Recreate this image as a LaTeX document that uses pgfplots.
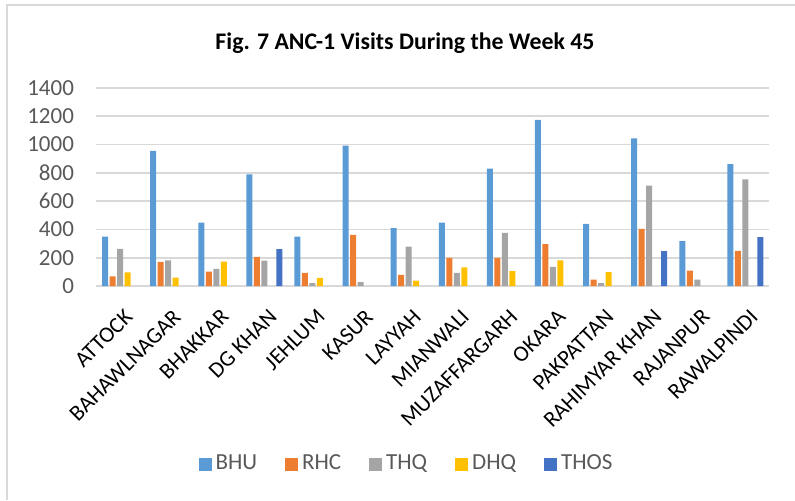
\documentclass[border=0pt]{standalone}
\usepackage{fontspec}
\setmainfont{Carlito}
\usepackage{pgfplots}
\pgfplotsset{compat=1.18}
\definecolor{cBHU}{HTML}{5B9BD5}
\definecolor{cRHC}{HTML}{ED7D31}
\definecolor{cTHQ}{HTML}{A5A5A5}
\definecolor{cDHQ}{HTML}{FFC000}
\definecolor{cTHOS}{HTML}{4472C4}
\definecolor{gridc}{HTML}{D9D9D9}
\definecolor{txtc}{HTML}{595959}
\newcommand{\lf}{\fontsize{11.5}{13}\selectfont\color{txtc}}
\begin{document}
\begin{tikzpicture}
\path[use as bounding box] (0pt,0pt) rectangle (397.5pt,250pt);
\draw[gridc, line width=0.7pt] (3.5pt,0pt) -- (3.5pt,247.5pt) -- (397.5pt,247.5pt);
\node[font=\bfseries\fontsize{11.9}{14}\selectfont, anchor=base] at (202.5pt,225.5pt) {Fig. 7 ANC-1 Visits During the Week 45};
\begin{axis}[
  at={(48pt,107pt)}, anchor=south west,
  scale only axis, width=336.7pt, height=99pt,
  xmin=-0.5, xmax=13.5, ymin=0, ymax=1400,
  ytick={0,200,...,1400},
  xtick={0,...,13},
  xticklabels={ATTOCK,BAHAWLNAGAR,BHAKKAR,DG KHAN,JEHLUM,KASUR,LAYYAH,MIANWALI,MUZAFFARGARH,OKARA,PAKPATTAN,RAHIMYAR KHAN,RAJANPUR,RAWALPINDI},
  axis x line*=bottom, axis y line*=left,
  x axis line style={-, draw=gridc, line width=0.8pt},
  y axis line style={draw=none},
  major tick length=0pt,
  ymajorgrids, major grid style={gridc, line width=0.8pt},
  /pgf/number format/assume math mode=true,
  /pgf/number format/1000 sep={},
  yticklabel style={font=\fontsize{11.5}{13}\selectfont, text=txtc, anchor=east, xshift=-7.5pt},
  xticklabel style={font=\fontsize{11.2}{13}\selectfont, text=black, inner sep=0pt, xshift=1.75pt, yshift=-10.8pt, rotate=45, anchor=north east},
  bar width=3pt,
  legend columns=5,
  legend style={draw=none, fill=none, at={(0.4626,-0.899)}, anchor=center,
    font=\fontsize{11.5}{13}\selectfont, text=txtc,
    /tikz/every even column/.append style={column sep=12pt}},
  legend image code/.code={\fill[#1] (0pt,-3.25pt) rectangle (6.5pt,3.25pt);},
]
\addplot[ybar, bar shift=-7.5pt, fill=cBHU, draw=none] coordinates {
(0,350) (1,955) (2,449) (3,790) (4,350) (5,993) (6,409) (7,449) (8,830) (9,1175) (10,440) (11,1043) (12,317) (13,861)};
\addlegendentry{\lf BHU}
\addplot[ybar, bar shift=-3.75pt, fill=cRHC, draw=none] coordinates {
(0,69) (1,170) (2,102) (3,206) (4,92) (5,362) (6,78) (7,199) (8,199) (9,296) (10,45) (11,404) (12,109) (13,248)};
\addlegendentry{\lf RHC}
\addplot[ybar, bar shift=0pt, fill=cTHQ, draw=none] coordinates {
(0,262) (1,182) (2,121) (3,180) (4,21) (5,28) (6,279) (7,92) (8,376) (9,135) (10,21) (11,709) (12,45) (13,754)};
\addlegendentry{\lf THQ}
\addplot[ybar, bar shift=3.75pt, fill=cDHQ, draw=none] coordinates {
(0,97) (1,59) (2,173) (4,57) (6,38) (7,132) (8,106) (9,182) (10,99)};
\addlegendentry{\lf DHQ}
\addplot[ybar, bar shift=7.5pt, fill=cTHOS, draw=none] coordinates {
(3,260) (11,246) (13,345)};
\addlegendentry{\lf THOS}
\end{axis}
\end{tikzpicture}
\end{document}
